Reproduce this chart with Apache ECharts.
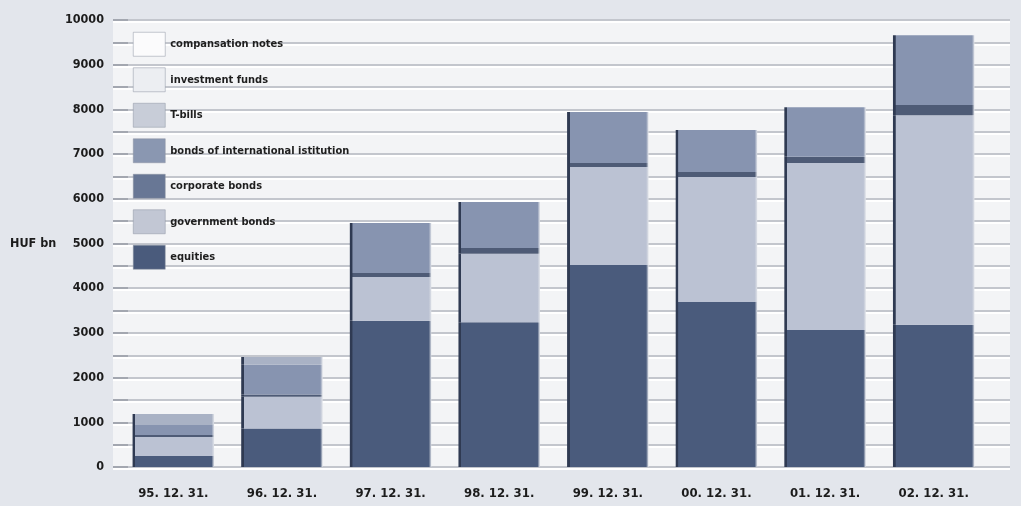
<!DOCTYPE html>
<html>
<head>
<meta charset="utf-8">
<script src="https://cdn.jsdelivr.net/npm/echarts@6/dist/echarts.min.js"></script>
<style>
html,body{margin:0;padding:0;background:#e3e6ec;}
#c{width:1021px;height:506px;}
</style>
</head>
<body>
<div id="c"></div>
<script>
// ---- data (HUF bn) ----
var categories = ['95. 12. 31.', '96. 12. 31.', '97. 12. 31.', '98. 12. 31.', '99. 12. 31.', '00. 12. 31.', '01. 12. 31.', '02. 12. 31.'];
var equities        = [245, 860, 3270, 3240, 4520, 3690, 3065, 3180];
var governmentBonds = [425, 710, 980, 1530, 2190, 2800, 3735, 4690];
var corporateBonds  = [45, 50, 90, 130, 90, 110, 140, 230];
var intlBonds       = [225, 670, 1120, 1030, 1140, 940, 1110, 1560];
var tBills          = [245, 170, 0, 0, 0, 0, 0, 0];
var investmentFunds = [0, 0, 0, 0, 0, 0, 0, 0];
var compNotes       = [0, 0, 0, 0, 0, 0, 0, 0];
var yTicks = [0, 1000, 2000, 3000, 4000, 5000, 6000, 7000, 8000, 9000, 10000];

var FONT = "'Liberation Sans Narrow', 'Arial Narrow', 'DejaVu Sans Condensed', sans-serif";
var chart = echarts.init(document.getElementById('c'));

function edgeFill(col) {
  return new echarts.graphic.LinearGradient(0, 0, 1, 0, [
    {offset: 0, color: '#2f3a52'},
    {offset: 0.03, color: '#2f3a52'},
    {offset: 0.035, color: col},
    {offset: 0.97, color: col},
    {offset: 1, color: '#dfe2e8'}
  ]);
}

var seriesDefs = [
  {name: 'equities', data: equities, color: '#4a5b7c'},
  {name: 'government bonds', data: governmentBonds, color: '#bbc2d3'},
  {name: 'corporate bonds', data: corporateBonds, color: '#4e5b76'},
  {name: 'bonds of international istitution', data: intlBonds, color: '#8794b0'},
  {name: 'T-bills', data: tBills, color: '#a9b2c5'},
  {name: 'investment funds', data: investmentFunds, color: '#eceef2'},
  {name: 'compansation notes', data: compNotes, color: '#fbfbfc'}
];
var legendColors = {
  'compansation notes': '#fbfbfc',
  'investment funds': '#eceef2',
  'T-bills': '#c8cdd8',
  'bonds of international istitution': '#8a97b1',
  'corporate bonds': '#687795',
  'government bonds': '#c2c7d4',
  'equities': '#4a5b7c'
};
var legendOrder = ['compansation notes', 'investment funds', 'T-bills', 'bonds of international istitution', 'corporate bonds', 'government bonds', 'equities'];

var series = seriesDefs.map(function (s) {
  return {
    name: s.name,
    type: 'bar',
    stack: 'total',
    xAxisIndex: 0,
    yAxisIndex: 0,
    barWidth: '75%',
    data: s.data,
    itemStyle: {color: edgeFill(s.color)},
    emphasis: {disabled: true}
  };
});

chart.setOption({
  backgroundColor: '#e3e6ec',
  animation: false,
  grid: [
    {left: 119, right: 33, top: 20, bottom: 39, containLabel: false},
    {left: 113, right: 11, top: 20, bottom: 39, containLabel: false, show: true, backgroundColor: '#f3f4f6', borderWidth: 0}
  ],
  xAxis: [
    {
      type: 'category', gridIndex: 0, data: categories,
      axisLine: {show: false}, axisTick: {show: false},
      axisLabel: {fontFamily: FONT, fontSize: 13, fontWeight: 'bold', color: '#1c1c1c', margin: 20}
    },
    {type: 'value', gridIndex: 1, show: false}
  ],
  yAxis: [
    {type: 'value', gridIndex: 0, min: 0, max: 10000, interval: 500, show: false, splitLine: {show: false}},
    {
      type: 'value', gridIndex: 1, min: 0, max: 10000, interval: 500, z: 0,
      axisLine: {show: false},
      axisTick: {show: true, inside: true, length: 15, lineStyle: {color: '#a3a7b0', width: 2}},
      axisLabel: {
        fontFamily: FONT, fontSize: 12.5, fontWeight: 'bold', color: '#1c1c1c', margin: 9,
        formatter: function (v) { return yTicks.indexOf(v) >= 0 ? String(v) : ''; }
      },
      splitLine: {show: true, lineStyle: {color: '#c3c6cd', width: 2, shadowColor: '#ffffff', shadowOffsetY: 2, shadowBlur: 0}}
    }
  ],
  legend: {
    orient: 'vertical',
    left: 133, top: 32,
    itemWidth: 32, itemHeight: 24, itemGap: 11,
    padding: 0,
    selectedMode: false,
    icon: 'rect',
    textStyle: {fontFamily: FONT, fontSize: 11, fontWeight: 'bold', color: '#1e1e1e'},
    data: legendOrder.map(function (n) {
      return {name: n, itemStyle: {color: legendColors[n], borderColor: '#8c92a0', borderWidth: 0.5}};
    })
  },
  graphic: [
    {type: 'text', left: 10, top: 237, style: {text: 'HUF bn', fontFamily: FONT, fontSize: 12.5, fontWeight: 'bold', fill: '#1c1c1c'}}
  ],
  series: series
});
</script>
</body>
</html>
